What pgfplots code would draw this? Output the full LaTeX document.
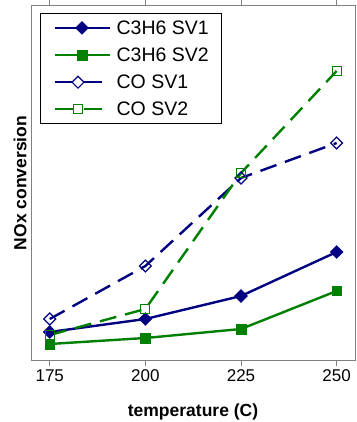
\documentclass[border=0pt]{standalone}
\usepackage{pgfplots}
\pgfplotsset{compat=1.18}
\usepackage{fontspec}
\setmainfont{Liberation Sans}
\definecolor{navy}{RGB}{0,0,128}
\definecolor{dgreen}{RGB}{0,128,0}
\newcommand{\legfont}{\fontsize{19.5}{20}\selectfont}
\pgfplotsset{
  colegend/.style={legend image code/.code={
    \draw[##1, line width=2.2pt, dash pattern=on 18pt off 11pt] (0pt,0pt) -- (47pt,0pt);
    \draw[##1, draw=none] plot coordinates {(23.5pt,0pt)};
  }},
}
\begin{document}
\begin{tikzpicture}[x=1pt,y=1pt]
\path[use as bounding box] (-31,-62) rectangle (325,360);
\begin{axis}[
  at={(0,0)}, anchor=south west,
  scale only axis, width=324pt, height=354pt,
  xmin=170.1, xmax=254.8, ymin=0, ymax=354,
  axis line style={gray, line width=1pt},
  xtick={175,200,225,250},
  ytick=\empty,
  tick style={gray, line width=1pt},
  tick align=outside, major tick length=6pt,
  xticklabel style={font=\fontsize{17}{17}\selectfont},
  /pgf/number format/assume math mode=true,
  xlabel={\bfseries temperature (C)},
  ylabel={\bfseries NOx conversion},
  label style={font=\fontsize{17.5}{17.5}\selectfont},
  xlabel style={at={(axis description cs:0.5,0)}, anchor=center, yshift=-52pt},
  ylabel style={at={(axis description cs:0,0.5)}, anchor=center, yshift=11pt},
  legend style={at={(9pt,347pt)}, anchor=north west, draw=black, line width=0.8pt,
    font=\legfont, nodes={inner sep=0pt},
    row sep=12pt, column sep=6pt, inner xsep=13pt, inner ysep=7pt,
    cells={anchor=west}},
  legend cell align=left,
  legend image code/.code={
    \draw[#1, solid, line width=2.2pt] (0pt,0pt) -- (55pt,0pt);
    \draw[#1, draw=none] plot coordinates {(27.5pt,0pt)};
  },
]
\addplot[navy, line width=2.4pt, mark=square*, mark size=4.5pt, mark options={solid, rotate=45, fill=navy, line width=0.6pt}]
  coordinates {(175,28) (200,41) (225,64) (250,108)};
\addlegendentry{C3H6 SV1}
\addplot[dgreen, line width=2.4pt, mark=square*, mark size=4.8pt, mark options={solid, fill=dgreen, line width=0.6pt}]
  coordinates {(175,16) (200,22) (225,31) (250,69)};
\addlegendentry{C3H6 SV2}
\addplot[navy, line width=2.4pt, dash pattern=on 17pt off 9pt, mark=square, mark size=4.2pt,
  mark options={solid, rotate=45, fill=white, line width=1.2pt}, colegend]
  coordinates {(175,41) (200,94) (225,182) (250,217)};
\addlegendentry{CO SV1}
\addplot[dgreen, line width=2.4pt, dash pattern=on 17pt off 9pt, mark=square, mark size=4.5pt,
  mark options={solid, fill=white, line width=1.2pt}, colegend]
  coordinates {(175,25) (200,51) (225,187) (250,289)};
\addlegendentry{CO SV2}
\end{axis}
\end{tikzpicture}
\end{document}
